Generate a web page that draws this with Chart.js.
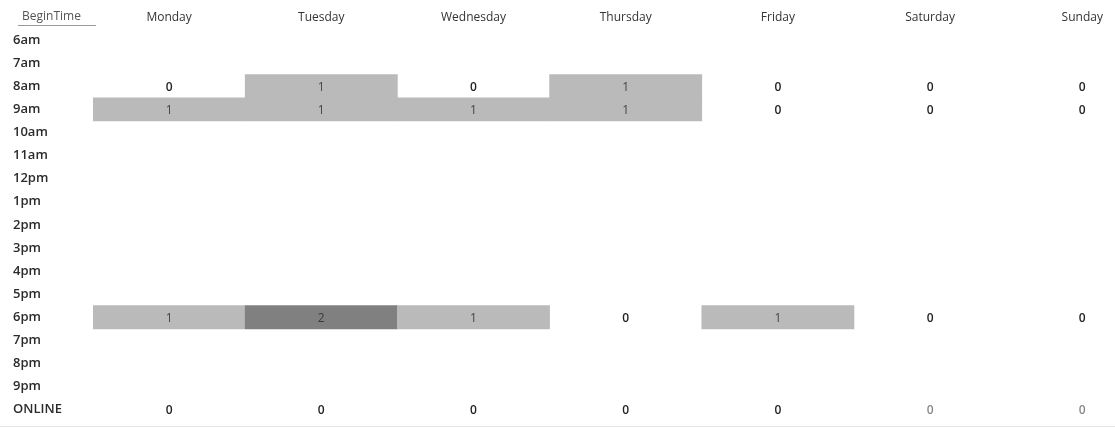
<!DOCTYPE html>
<html>
<head>
<meta charset="utf-8">
<script src="https://cdn.jsdelivr.net/npm/chart.js@4/dist/chart.umd.min.js"></script>
<style>
html,body{margin:0;padding:0;background:#fff;}
#wrap{width:1115px;height:429px;position:relative;}
</style>
</head>
<body>
<div id="wrap"><canvas id="c"></canvas></div>
<script>
// ---- data ----
const rowHeader = 'BeginTime';
const days = ['Monday','Tuesday','Wednesday','Thursday','Friday','Saturday','Sunday'];
const beginTimes = ['6am','7am','8am','9am','10am','11am','12pm','1pm','2pm','3pm','4pm','5pm','6pm','7pm','8pm','9pm','ONLINE'];
const counts8am   = [0,1,0,1,0,0,0];
const counts9am   = [1,1,1,1,0,0,0];
const counts6pm   = [1,2,1,0,1,0,0];
const countsOnline = [0,0,0,0,0,0,0];

const rowsWithCounts = [
  {time:'8am', counts:counts8am},
  {time:'9am', counts:counts9am},
  {time:'6pm', counts:counts6pm},
  {time:'ONLINE', counts:countsOnline}
];

const fillFor = v => v >= 2 ? '#808080' : '#bababa';

const datasets = rowsWithCounts.map(row => {
  const r = beginTimes.indexOf(row.time);
  return {
    label: row.time,
    data: row.counts.map((v, d) => v > 0 ? {x: d, y: [r - 0.5, r + 0.5], v: v} : null).filter(Boolean),
    backgroundColor: ctx => fillFor(ctx.raw ? ctx.raw.v : 1),
    borderWidth: 0,
    borderSkipped: false,
    grouped: false,
    barPercentage: 1,
    categoryPercentage: 1
  };
});

const cellText = {
  id: 'cellText',
  afterDatasetsDraw(chart) {
    const {ctx, scales: {x, y}} = chart;
    ctx.save();
    ctx.textAlign = 'center';
    ctx.textBaseline = 'middle';
    rowsWithCounts.forEach(row => {
      const r = beginTimes.indexOf(row.time);
      row.counts.forEach((v, d) => {
        const px = x.getPixelForValue(d);
        const py = y.getPixelForValue(r) + 1;
        if (v > 0) {
          ctx.font = '400 12px "Open Sans"';
          ctx.fillStyle = v >= 2 ? '#3a3a3a' : '#444';
        } else {
          ctx.font = '600 12px "Open Sans"';
          ctx.fillStyle = (row.time === 'ONLINE' && d >= 5) ? '#888' : '#222';
        }
        ctx.fillText(String(v), px, py);
      });
    });
    // header of the row-label column
    ctx.textAlign = 'left';
    ctx.font = '400 12px "Open Sans"';
    ctx.fillStyle = '#555';
    ctx.fillText(rowHeader, 22, 17);
    ctx.strokeStyle = '#9a9a9a';
    ctx.lineWidth = 1;
    ctx.beginPath();
    ctx.moveTo(18, 25.5); ctx.lineTo(96, 25.5);
    ctx.stroke();
    // faint bottom rule
    ctx.strokeStyle = '#e4e4e4';
    ctx.beginPath();
    ctx.moveTo(0, 426.5); ctx.lineTo(1115, 426.5);
    ctx.stroke();
    ctx.restore();
  }
};

new Chart(document.getElementById('c'), {
  type: 'bar',
  data: { datasets: datasets },
  options: {
    responsive: true,
    maintainAspectRatio: false,
    animation: false,
    devicePixelRatio: 1,
    layout: { padding: { left: 13, right: 0, top: 0, bottom: 4 } },
    plugins: { legend: { display: false }, tooltip: { enabled: false } },
    scales: {
      x: {
        type: 'linear',
        position: 'top',
        offset: false,
        min: -0.5,
        max: 6.215,
        afterBuildTicks: s => { s.ticks = days.map((_, i) => ({value: i})); },
        afterFit: s => { s.height = 28.5; },
        grid: { display: false, drawTicks: false },
        border: { display: false },
        ticks: {
          autoSkip: false,
          maxRotation: 0,
          padding: 4,
          color: '#333',
          font: { family: '"Open Sans"', size: 12, weight: '400' },
          callback: v => days[v]
        }
      },
      y: {
        type: 'linear',
        reverse: true,
        min: -0.5,
        max: 16.5,
        afterBuildTicks: s => { s.ticks = beginTimes.map((_, i) => ({value: i})); },
        afterFit: s => { s.width = 80; },
        grid: { display: false, drawTicks: false },
        border: { display: false },
        ticks: {
          autoSkip: false,
          crossAlign: 'far',
          padding: 0,
          color: '#2b2b2b',
          font: { family: '"Open Sans"', size: 13, weight: '600' },
          callback: v => beginTimes[v]
        }
      }
    }
  },
  plugins: [cellText]
});
</script>
</body>
</html>
